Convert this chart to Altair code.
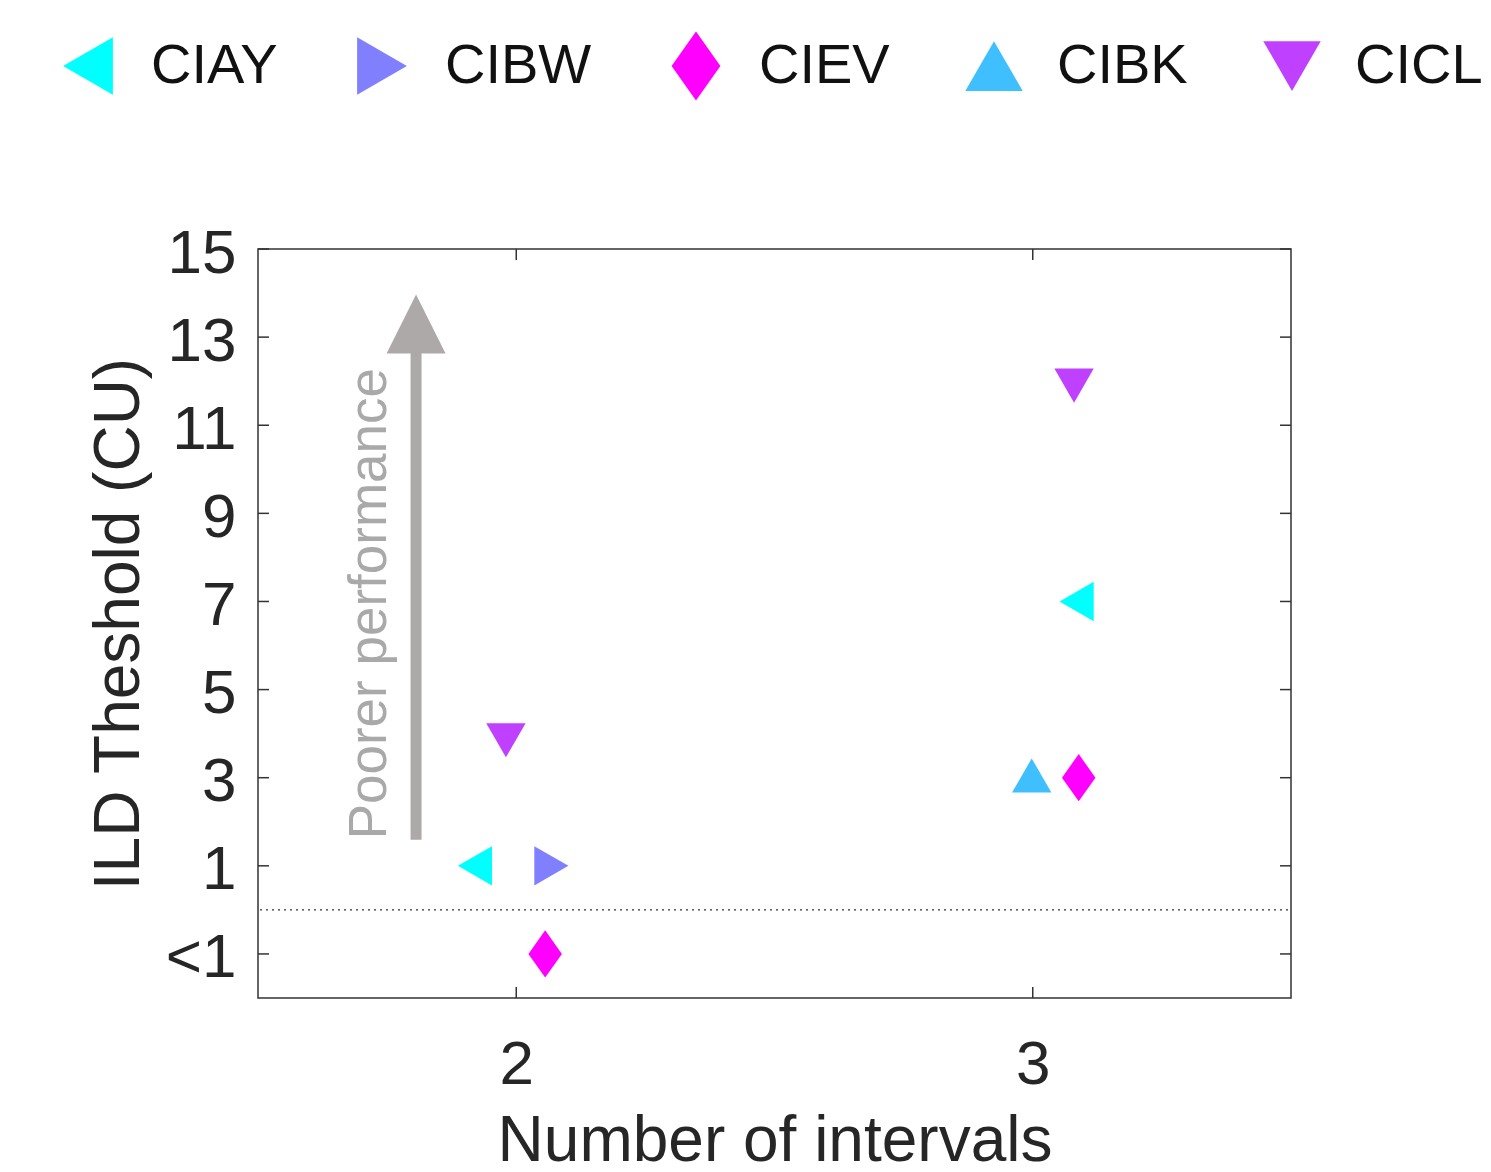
import altair as alt
import pandas as pd

# data
subjects = ["CIAY", "CIAY", "CIBW", "CIEV", "CIEV", "CIBK", "CICL", "CICL"]
intervals = [1.92, 3.085, 2.068, 2.056, 3.089, 2.998, 1.98, 3.08]
thresholds = [1.0, 7.0, 1.0, -1.0, 3.0, 3.05, 3.85, 11.9]

legend_order = ["CIAY", "CIBW", "CIEV", "CIBK", "CICL"]
legend_colors = ["#00FFFF", "#8080FF", "#FF00FF", "#40BFFF", "#BF40FF"]
DIAMOND = "M0,-1.2L0.85,0L0,1.2L-0.85,0Z"
legend_shapes = ["triangle-left", "triangle-right", DIAMOND, "triangle-up", "triangle-down"]

y_ticks = [-1, 1, 3, 5, 7, 9, 11, 13, 15]
x_ticks = [2, 3]

arrow_x = [1.806]
arrow_y0 = [1.59]
arrow_y1 = [12.7]
arrow_head_y = [13.3]
note_x = [1.717]
note_y = [6.95]
note_text = ["Poorer performance"]

W, H = 1033, 749
FONT = "Liberation Sans"
AX = "#333333"
GRAY = "#ADA9A9"

df = pd.DataFrame({"subject": subjects, "n": intervals, "thr": thresholds})

xs = alt.Scale(domain=[1.5, 3.5], nice=False, zero=False)
ys = alt.Scale(domain=[-2, 15], nice=False, zero=False)

points = alt.Chart(df).mark_point(filled=True, opacity=1, size=1550, strokeWidth=0).encode(
    x=alt.X("n:Q", scale=xs, axis=alt.Axis(values=x_ticks, title="Number of intervals", format="d",
                                           ticks=False, domain=False, grid=False,
                                           labelFontSize=62, labelPadding=36, titleFontSize=64,
                                           titlePadding=14, labelFont=FONT, titleFont=FONT,
                                           labelColor="#262626", titleColor="#262626",
                                           titleFontWeight="normal")),
    y=alt.Y("thr:Q", scale=ys, axis=alt.Axis(values=y_ticks, title="ILD Theshold (CU)",
                                             labelExpr="datum.value == -1 ? '<1' : datum.label",
                                             ticks=False, domain=False, grid=False,
                                             labelFontSize=62, labelPadding=22, titleFontSize=64,
                                             titlePadding=14, labelFont=FONT, titleFont=FONT,
                                             labelColor="#262626", titleColor="#262626",
                                             titleFontWeight="normal", labelOffset=4)),
    color=alt.Color("subject:N", scale=alt.Scale(domain=legend_order, range=legend_colors),
                    legend=alt.Legend(title=None)),
    shape=alt.Shape("subject:N", scale=alt.Scale(domain=legend_order, range=legend_shapes),
                    legend=alt.Legend(title=None)),
)

# inward ticks
ydf = pd.DataFrame({"v": y_ticks})
xdf = pd.DataFrame({"v": x_ticks})
tl = alt.Chart(ydf).mark_rule(color=AX, strokeWidth=1.5).encode(
    y=alt.Y("v:Q", scale=ys), x=alt.value(0), x2=alt.value(11))
tr = alt.Chart(ydf).mark_rule(color=AX, strokeWidth=1.5).encode(
    y=alt.Y("v:Q", scale=ys), x=alt.value(W - 11), x2=alt.value(W))
tb = alt.Chart(xdf).mark_rule(color=AX, strokeWidth=1.5).encode(
    x=alt.X("v:Q", scale=xs), y=alt.value(H - 11), y2=alt.value(H))
tt = alt.Chart(xdf).mark_rule(color=AX, strokeWidth=1.5).encode(
    x=alt.X("v:Q", scale=xs), y=alt.value(0), y2=alt.value(11))

zero = alt.Chart(pd.DataFrame({"v": [0]})).mark_rule(color=AX, strokeWidth=1.2, strokeDash=[2, 4]).encode(
    y=alt.Y("v:Q", scale=ys), x=alt.value(2), x2=alt.value(W - 3))

adf = pd.DataFrame({"x": arrow_x, "y0": arrow_y0, "y1": arrow_y1, "yh": arrow_head_y})
shaft = alt.Chart(adf).mark_rule(color=GRAY, strokeWidth=11).encode(
    x=alt.X("x:Q", scale=xs), y=alt.Y("y0:Q", scale=ys), y2="y1:Q")
head = alt.Chart(adf).mark_point(shape="M0,-1L1,1L-1,1Z", filled=True, opacity=1, size=3481,
                                 color=GRAY, strokeWidth=0).encode(
    x=alt.X("x:Q", scale=xs), y=alt.Y("yh:Q", scale=ys))

ndf = pd.DataFrame({"x": note_x, "y": note_y, "t": note_text})
note = alt.Chart(ndf).mark_text(angle=270, fontSize=53, font=FONT, color="#A9A9A9",
                                align="center", baseline="middle").encode(
    x=alt.X("x:Q", scale=xs), y=alt.Y("y:Q", scale=ys), text="t:N")

chart = alt.layer(zero, tl, tr, tb, tt, shaft, head, note, points).properties(
    width=W, height=H,
    background="white",
    autosize=alt.AutoSizeParams(type="none"),
    padding={"left": 250, "top": 241, "right": 192, "bottom": 174},
).configure_view(stroke=AX, strokeWidth=1.5).configure_legend(
    orient="none", legendX=-199, legendY=-212, direction="horizontal", columns=5,
    columnPadding=75, labelFontSize=56, labelFont=FONT, labelColor="#111111",
    symbolSize=3300, labelOffset=34, symbolStrokeWidth=0, symbolOpacity=1, padding=0,
    gridAlign="none",
)

chart.save("out.html", embed_options={"renderer": "svg", "actions": False})
